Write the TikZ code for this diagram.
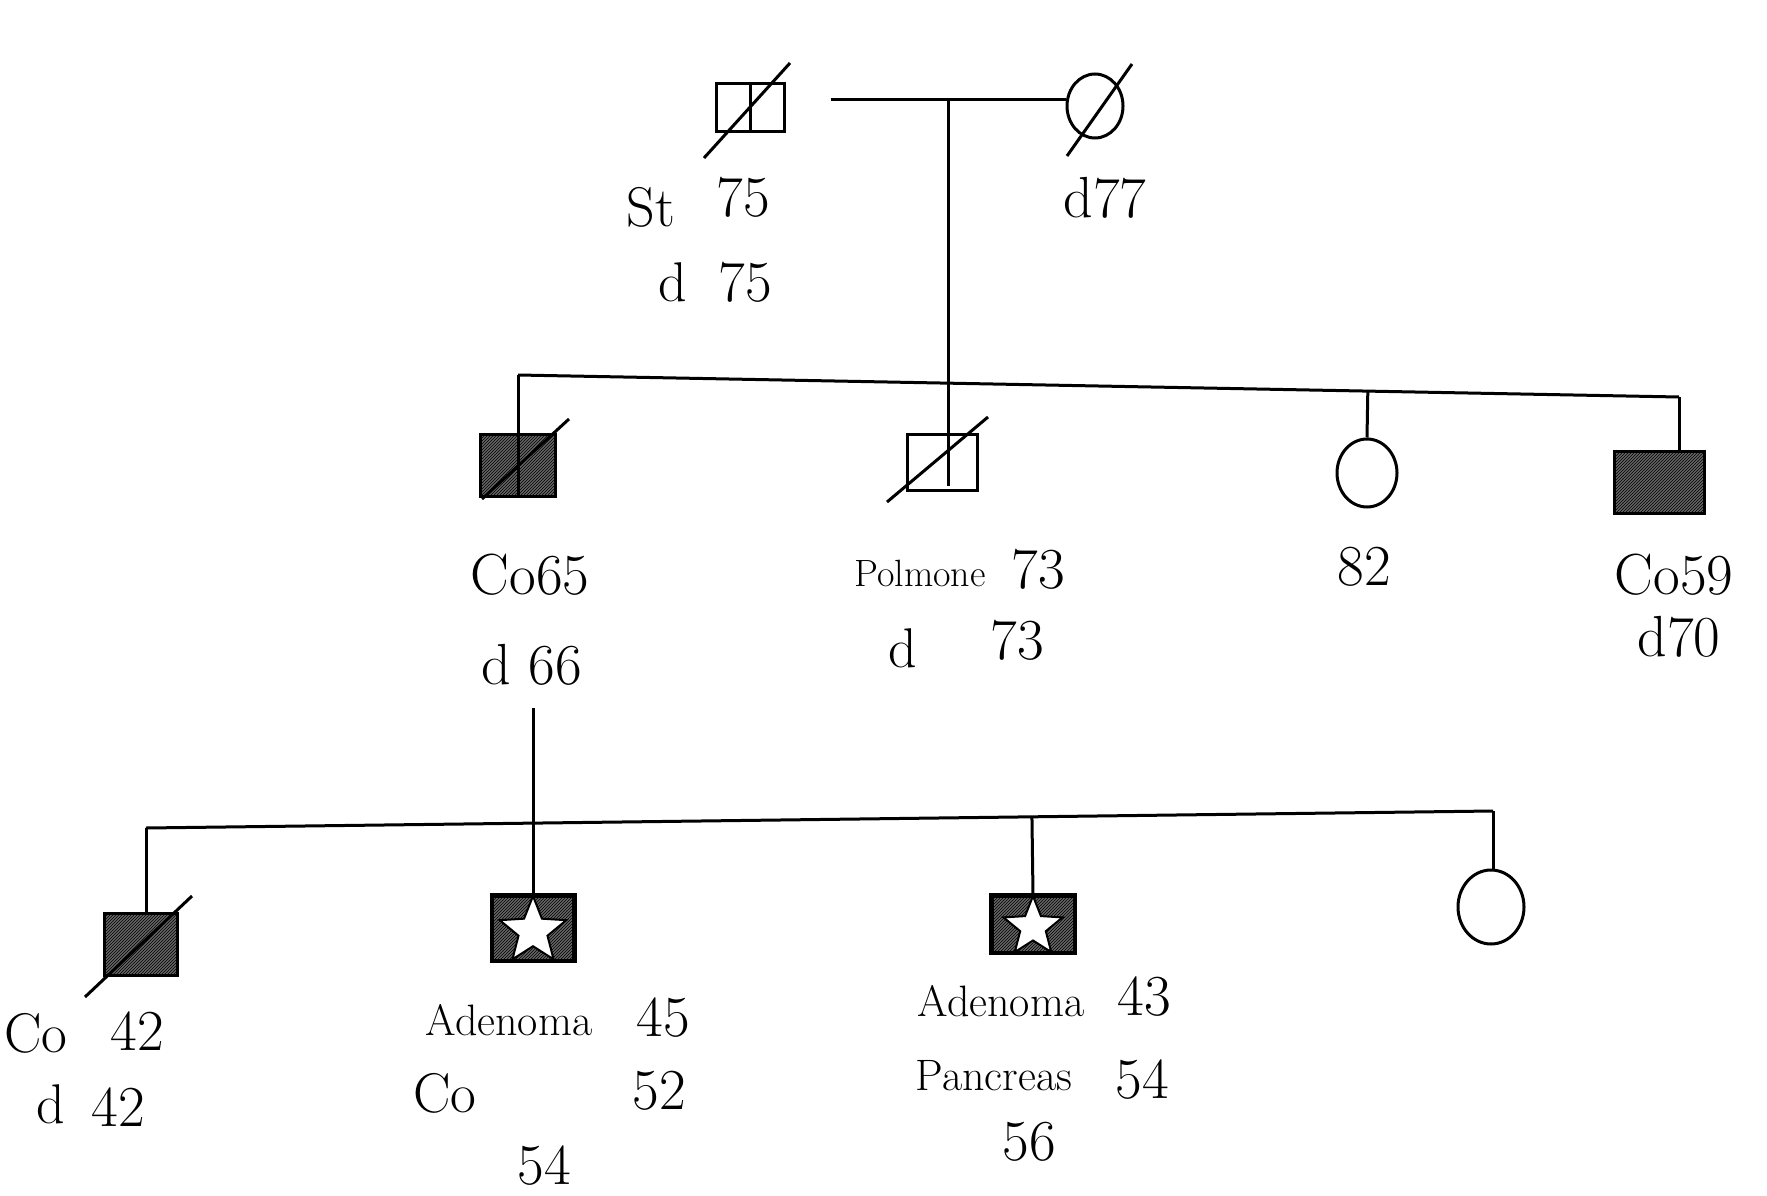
\documentclass[tikz,border=0pt]{standalone}
\usetikzlibrary{shapes.geometric,patterns,calc}
\begin{document}
\begin{tikzpicture}[x=1pt,y=-1pt,
  ln/.style={line width=3pt},
  ind/.style={draw,line width=3pt,inner sep=0pt},
  aff/.style={fill=black!60,postaction={pattern=north east lines}},
  sym/.style={draw,line width=2pt,fill=white,star,star points=5,star point ratio=2.3,inner sep=0pt},
  num/.style={font=\fontsize{58}{60}\selectfont,inner sep=0pt},
  big/.style={font=\fontsize{56}{60}\selectfont,inner sep=0pt},
  wrd/.style={font=\fontsize{44}{48}\selectfont,inner sep=0pt},
]
\useasboundingbox (0,0) rectangle (1767,1196);
\fill[white] (0,0) rectangle (1767,1196);

% generation I
\node[ind,minimum width=68pt,minimum height=48pt] (fa) at (750,108) {};
\node[ind,ellipse,minimum width=56pt,minimum height=64pt] (mo) at (1095,106) {};
\draw[ln] (fa.north) -- (fa.south);
\draw[ln] ($(fa)+(-46,50)$) -- ($(fa)+(40,-45)$);
\draw[ln] ($(mo)+(-28,50)$) -- ($(mo)+(37,-42)$);
\coordinate (ml) at ([xshift=45pt,yshift=8pt]fa.east);
\draw[ln] (ml) -- (ml -| mo.west);
\coordinate (m) at ($(ml)!0.5!(ml -| mo.west)$);

\node[big] (tSt) at (651,207) {St};
\node[num] (t75a) at (743,197) {75};
\node[big] (td1) at (673,282) {d};
\node[num] (t75b) at (745,282) {75};
\node[num] (td77) at (1105,198) {d77};

% generation II
\node[ind,aff,minimum width=75pt,minimum height=62pt] (c65) at (518,465) {};
\node[ind,minimum width=70pt,minimum height=56pt] (pol) at (942,462) {};
\node[ind,ellipse,minimum width=60pt,minimum height=68pt] (f82) at (1367,473) {};
\node[ind,aff,minimum width=90pt,minimum height=62pt] (c59) at (1659,482) {};

\coordinate (s1) at (518,375);
\coordinate (s4) at (1679,397);
\draw[ln] (s1) -- (s4);
\draw[ln] (m) -- ([yshift=6pt]m |- pol.south);
\draw[ln] (s1) -- (c65.south);
\draw[ln] ($(s1)!(f82.north)!(s4)$) -- (f82.north);
\draw[ln] (s4) -- (s4 |- c59.north);
\draw[ln] ($(c65)+(-36,34)$) -- ($(c65)+(51,-46)$);
\draw[ln] ($(pol)+(-55,40)$) -- ($(pol)+(46,-45)$);

\node[num] (tco65) at (530,575) {Co65};
\node[num] (td66) at (532,665) {d 66};
\node[wrd,font=\fontsize{38}{40}\selectfont] (tpol) at (920,573) {Polmone};
\node[num] (t73a) at (1038,569) {73};
\node[big] (td2) at (903,648) {d};
\node[num] (t73b) at (1017,640) {73};
\node[num] (t82) at (1364,567) {82};
\node[num] (tco59) at (1674,575) {Co59};
\node[num] (td70) at (1679,637) {d70};

% generation III
\coordinate (dtop) at (533,708);
\coordinate (g1) at (146,828);
\coordinate (g4) at (1493,811);
\node[ind,aff,minimum width=81pt,minimum height=64pt] (a45) at (533,928) {};
\node[sym,minimum size=70pt] (st45) at (533,931) {};
\node[ind,aff,minimum width=82pt,minimum height=56pt] (a43) at (1033,924) {};
\node[sym,minimum size=62pt] (st43) at (1033,927) {};
\node[ind,aff,minimum width=73pt,minimum height=62pt] (c42) at (141,944) {};
\node[ind,ellipse,minimum width=66pt,minimum height=74pt] (f4) at (1491,907) {};

\draw[ln] (g1) -- (g4);
\draw[ln] (dtop) -- (a45.north);
\draw[ln] (g1) -- (g1 |- c42.north);
\draw[ln] ($(g1)!(a43.north)!(g4)$) -- (a43.north);
\draw[ln] (g4) -- (g4 |- f4.north);
\draw[ln] ($(c42)+(-56,53)$) -- ($(c42)+(51,-48)$);
\draw[ind] (a45.north west) rectangle (a45.south east);
\draw[ind] (a43.north west) rectangle (a43.south east);

\node[big] (tco42) at (36,1033) {Co};
\node[num] (t42a) at (137,1031) {42};
\node[big] (td3) at (51,1104) {d};
\node[num] (t42b) at (118,1107) {42};
\node[wrd] (tad1) at (509,1020) {Adenoma};
\node[num] (t45) at (663,1018) {45};
\node[big] (tco52) at (445,1093) {Co};
\node[num] (t52) at (659,1091) {52};
\node[num] (t54a) at (544,1166) {54};
\node[wrd] (tad2) at (1001,1001) {Adenoma};
\node[num] (t43) at (1144,997) {43};
\node[wrd] (tpan) at (994,1076) {Pancreas};
\node[num] (t54b) at (1142,1080) {54};
\node[num] (t56) at (1029,1142) {56};
\end{tikzpicture}
\end{document}
